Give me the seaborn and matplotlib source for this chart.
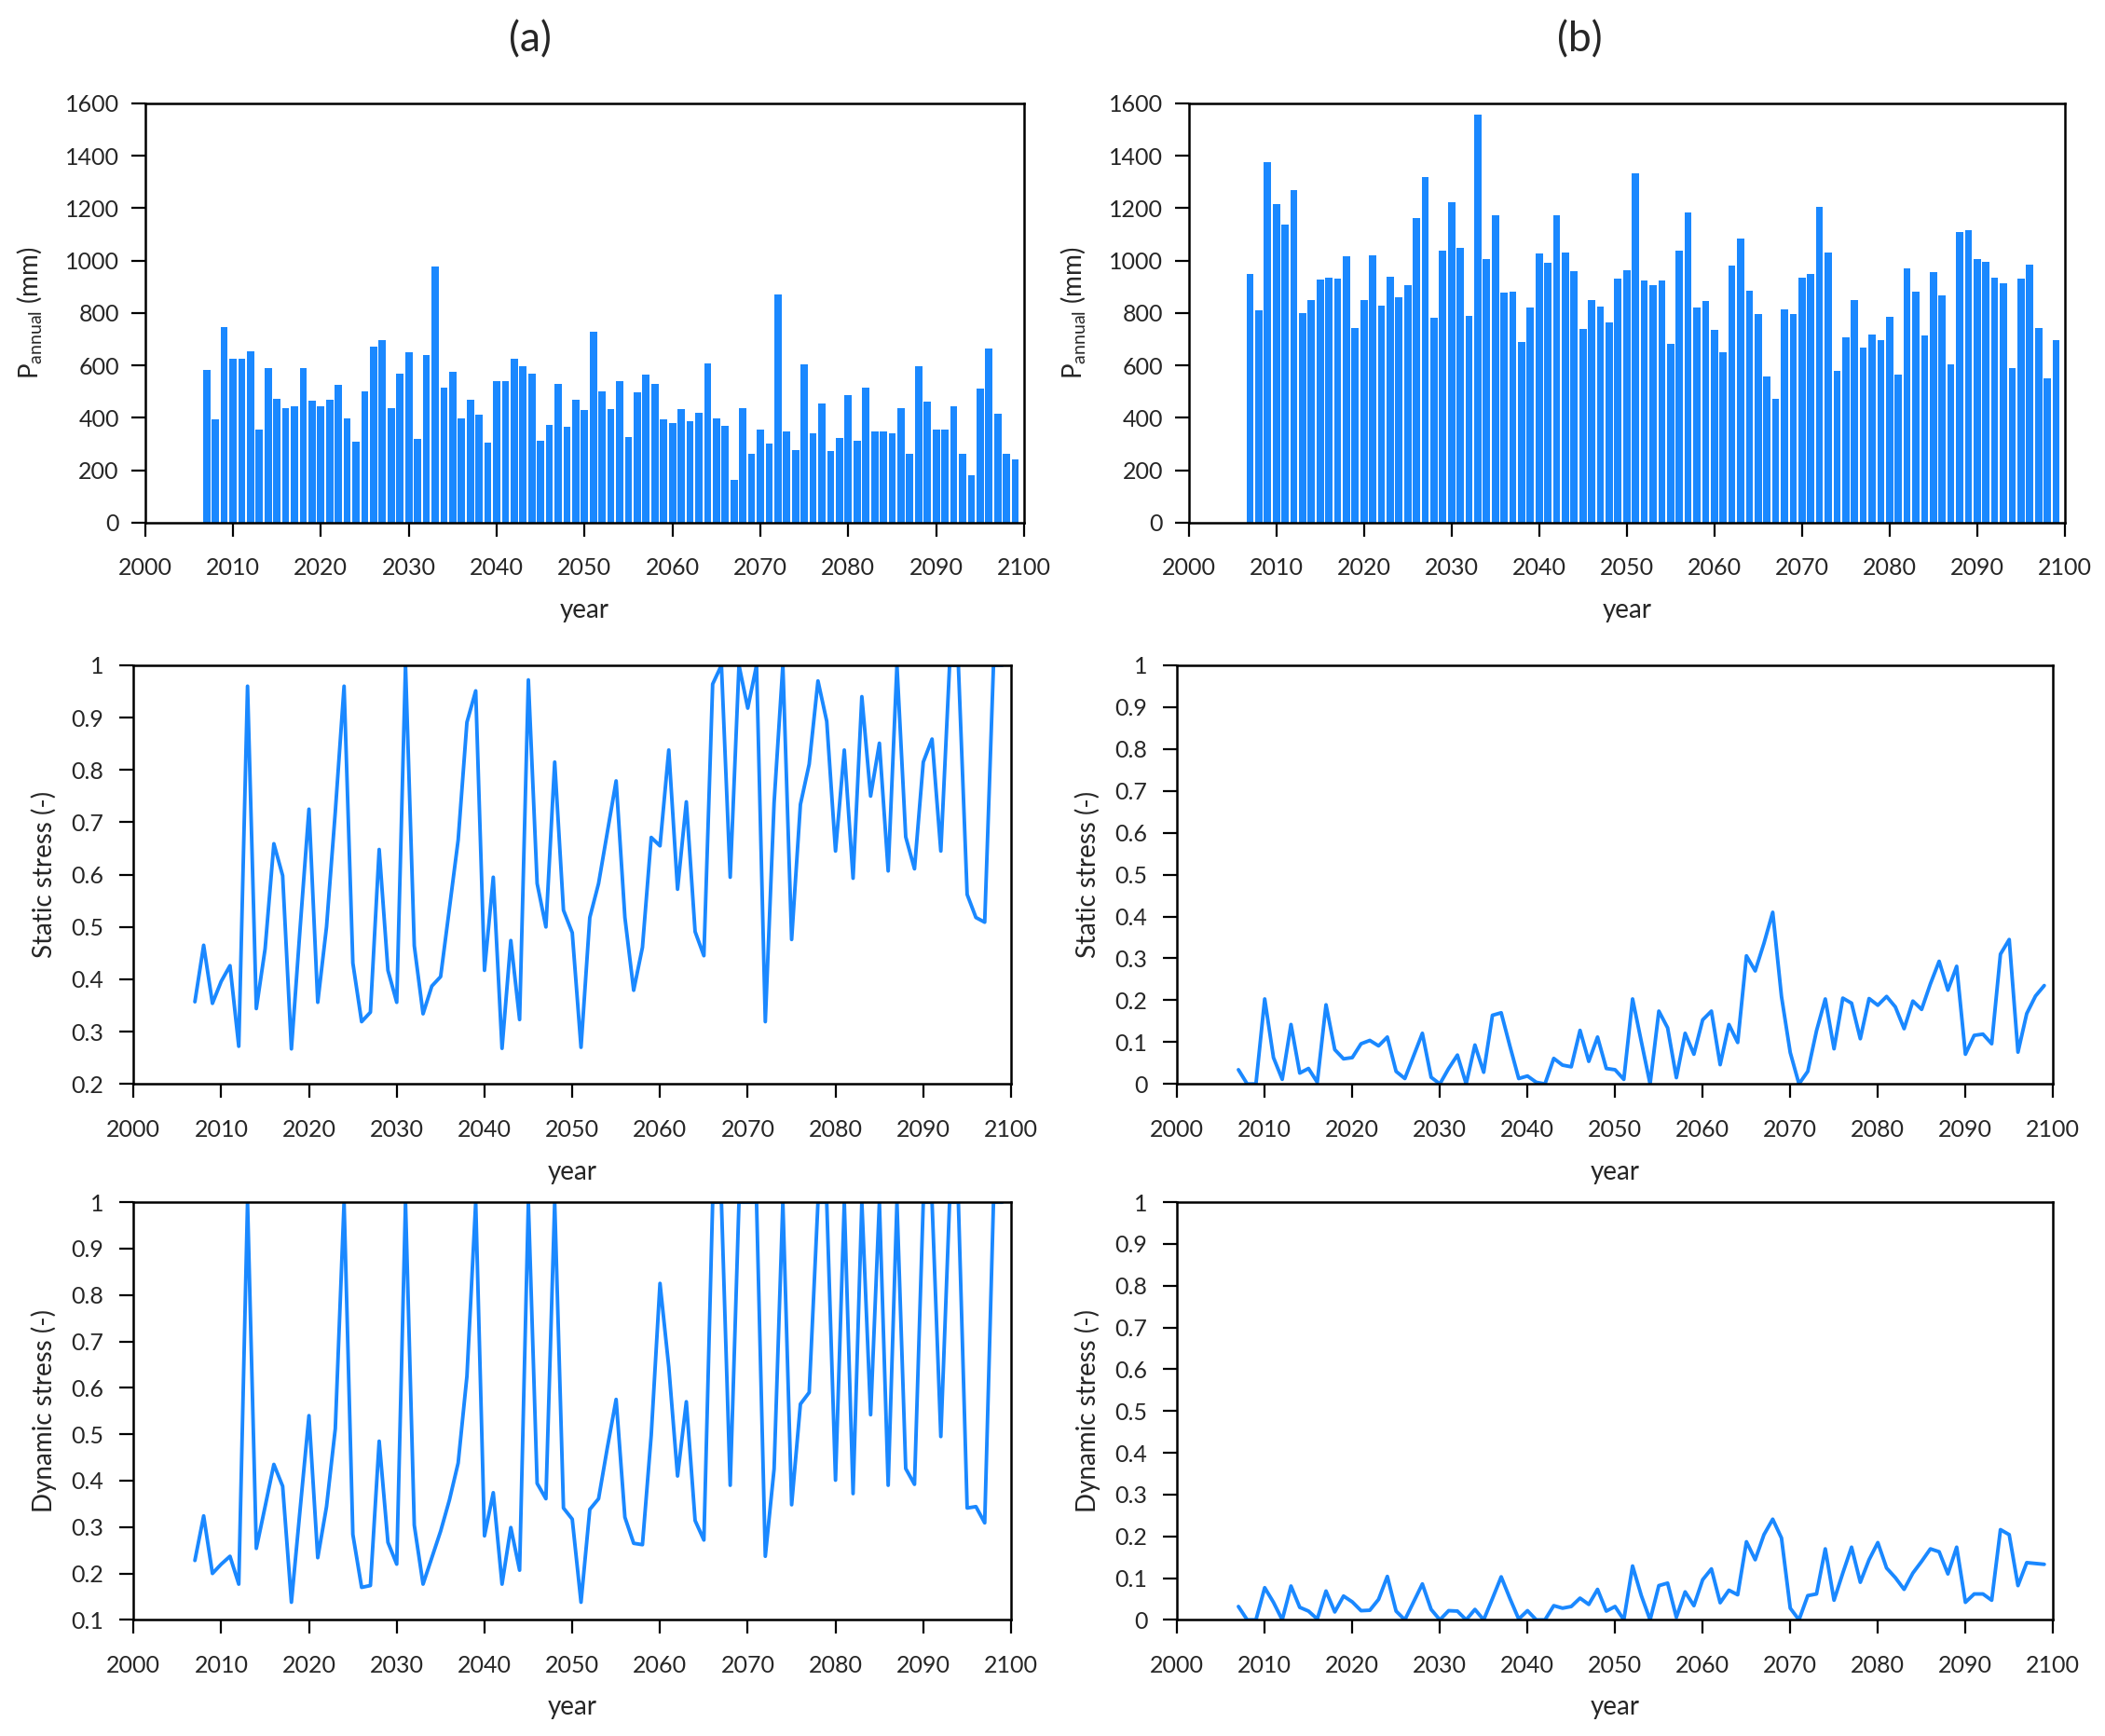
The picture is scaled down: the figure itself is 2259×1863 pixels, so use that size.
import matplotlib
matplotlib.use("Agg")
import matplotlib.pyplot as plt
import seaborn as sns

# Jahre der Zeitreihe
years = list(range(2007, 2100))

# Jahresniederschlag (mm), Szenario (a) und (b)
p_annual_a = [582, 393, 746, 624, 624, 655, 356, 588, 473, 437, 445, 590, 464, 445, 469,
              525, 399, 310, 502, 671, 695, 437, 568, 651, 320, 639, 976, 514, 576, 398,
              467, 410, 304, 540, 538, 624, 598, 568, 312, 371, 529, 365, 469, 429,
              729, 502, 433, 538, 326, 496, 565, 530, 393, 381, 433, 387, 419, 607, 398,
              369, 163, 436, 262, 354, 300, 869, 348, 276, 604, 342, 455, 273, 321, 488,
              312, 514, 348, 348, 342, 435, 264, 598, 461, 354, 354, 443, 264, 181, 512,
              663, 415, 262, 240]
p_annual_b = [949, 810, 1374, 1214, 1136, 1267, 800, 850, 929, 933, 931, 1017, 743, 848, 1020,
              826, 937, 860, 907, 1163, 1318, 782, 1038, 1223, 1050, 790, 1556, 1005, 1171, 877,
              881, 690, 821, 1026, 990, 1171, 1032, 961, 738, 850, 824, 764, 931, 963,
              1332, 925, 905, 925, 683, 1038, 1183, 821, 844, 735, 651, 979, 1083, 886, 794,
              556, 473, 814, 794, 933, 949, 1205, 1030, 580, 707, 850, 669, 717, 695, 785,
              565, 970, 880, 714, 955, 868, 604, 1110, 1115, 1005, 996, 935, 913, 589, 931,
              985, 744, 552, 695]

# statischer Stress (-)
static_a = [0.357, 0.465, 0.354, 0.396, 0.426, 0.272, 0.960, 0.344, 0.458, 0.659, 0.598, 0.267,
            0.50, 0.725, 0.356, 0.50, 0.72, 0.960, 0.431, 0.319, 0.337, 0.648, 0.417, 0.356,
            1.0, 0.464, 0.334, 0.387, 0.405, 0.535, 0.666, 0.891, 0.951, 0.417, 0.595, 0.268,
            0.474, 0.323, 0.972, 0.583, 0.500, 0.815, 0.532, 0.489,
            0.270, 0.518, 0.583, 0.681, 0.779, 0.518, 0.379, 0.461, 0.671, 0.655, 0.838, 0.572,
            0.739, 0.491, 0.445, 0.964, 1.0, 0.595, 1.0, 0.918, 1.0, 0.319, 0.737, 1.0,
            0.476, 0.734, 0.811, 0.970, 0.893, 0.645, 0.838, 0.593, 0.940, 0.750, 0.851, 0.607,
            1.0, 0.672, 0.611, 0.815, 0.859, 0.645, 1.0, 1.0, 0.562, 0.518, 0.509, 1.0, 1.0]
static_b = [0.034, 0.0, 0.0, 0.203, 0.063, 0.011, 0.142, 0.026, 0.037, 0.004, 0.189, 0.082,
            0.060, 0.063, 0.096, 0.104, 0.091, 0.112, 0.030, 0.013, 0.067, 0.121, 0.016, 0.0,
            0.037, 0.069, 0.0, 0.093, 0.028, 0.164, 0.170, 0.090, 0.013, 0.019, 0.004, 0.0,
            0.061, 0.045, 0.041, 0.128, 0.054, 0.112, 0.037, 0.034,
            0.011, 0.203, 0.101, 0.0, 0.174, 0.134, 0.015, 0.121, 0.071, 0.153, 0.174, 0.046,
            0.142, 0.099, 0.306, 0.270, 0.336, 0.410, 0.209, 0.075, 0.0, 0.030, 0.127, 0.203,
            0.084, 0.205, 0.193, 0.108, 0.204, 0.188, 0.209, 0.184, 0.132, 0.198, 0.178, 0.239,
            0.293, 0.224, 0.281, 0.071, 0.116, 0.119, 0.096, 0.310, 0.345, 0.076, 0.168, 0.210,
            0.235]

# dynamischer Stress (-)
dynamic_a = [0.228, 0.324, 0.200, 0.220, 0.237, 0.177, 1.0, 0.254, 0.344, 0.435, 0.388, 0.138,
             0.34, 0.540, 0.234, 0.344, 0.512, 1.0, 0.284, 0.170, 0.174, 0.485, 0.267, 0.220,
             1.0, 0.304, 0.177, 0.234, 0.291, 0.358, 0.438, 0.625, 1.0, 0.281, 0.374, 0.177,
             0.299, 0.207, 1.0, 0.394, 0.361, 1.0, 0.341, 0.317,
             0.138, 0.338, 0.361, 0.471, 0.575, 0.321, 0.265, 0.262, 0.498, 0.825, 0.645, 0.410,
             0.570, 0.314, 0.272, 1.0, 1.0, 0.390, 1.0, 1.0, 1.0, 0.237, 0.425, 1.0,
             0.348, 0.565, 0.590, 1.0, 1.0, 0.401, 1.0, 0.372, 1.0, 0.542, 1.0, 0.390,
             1.0, 0.426, 0.392, 1.0, 1.0, 0.495, 1.0, 1.0, 0.341, 0.344, 0.309, 1.0, 1.0]
dynamic_b = [0.032, 0.0, 0.0, 0.077, 0.042, 0.0, 0.081, 0.030, 0.021, 0.002, 0.069, 0.019,
             0.057, 0.043, 0.022, 0.023, 0.049, 0.104, 0.021, 0.0, 0.043, 0.086, 0.025, 0.0,
             0.022, 0.021, 0.0, 0.025, 0.0, 0.051, 0.103, 0.051, 0.002, 0.022, 0.0, 0.0,
             0.034, 0.028, 0.032, 0.052, 0.037, 0.073, 0.021, 0.032,
             0.0, 0.129, 0.058, 0.0, 0.082, 0.088, 0.006, 0.067, 0.034, 0.096, 0.122, 0.041,
             0.071, 0.060, 0.187, 0.144, 0.204, 0.241, 0.196, 0.028, 0.0, 0.058, 0.062, 0.170,
             0.047, 0.112, 0.174, 0.090, 0.144, 0.185, 0.124, 0.101, 0.073, 0.112, 0.140, 0.170,
             0.163, 0.110, 0.174, 0.042, 0.062, 0.062, 0.047, 0.216, 0.204, 0.082, 0.137, 0.135,
             0.133]

BLUE = "#1a88ff"

sns.set_style("ticks")
plt.rcParams["font.family"] = ["Lato", "DejaVu Sans"]
plt.rcParams["mathtext.fontset"] = "custom"
plt.rcParams["mathtext.rm"] = "Lato"

fig = plt.figure(figsize=(22.59, 18.63), dpi=100)

# Achsenpositionen [links, unten, breite, hoehe]
ax_pa = fig.add_axes([0.0689, 0.6990, 0.4176, 0.2415])
ax_pb = fig.add_axes([0.5647, 0.6990, 0.4162, 0.2415])
ax_sa = fig.add_axes([0.0634, 0.3756, 0.4169, 0.2412])
ax_sb = fig.add_axes([0.5592, 0.3756, 0.4161, 0.2412])
ax_da = fig.add_axes([0.0634, 0.0669, 0.4169, 0.2406])
ax_db = fig.add_axes([0.5592, 0.0669, 0.4161, 0.2406])


def fmt(v):
    return f"{v:g}"


def style(ax, ylab, ylim, yticks, ylab_x, ypad):
    ax.set_xlim(2000, 2100)
    ax.set_xticks(range(2000, 2101, 10))
    ax.set_ylim(*ylim)
    ax.set_yticks(yticks)
    ax.set_yticklabels([fmt(round(v, 1)) for v in yticks])
    for s in ax.spines.values():
        s.set_visible(True)
        s.set_color("black")
        s.set_linewidth(1.8)
    ax.tick_params(axis="both", direction="out", length=11, width=1.6,
                   labelsize=18, color="black", top=False, right=False)
    ax.tick_params(axis="x", pad=16)
    ax.tick_params(axis="y", pad=ypad)
    ax.set_xlabel("year", fontsize=20)
    ax.set_ylabel(ylab, fontsize=20)
    ax.xaxis.set_label_coords(0.5, -0.21)
    ax.xaxis.label.set_va("center")
    ax.yaxis.set_label_coords(ylab_x, 0.5)
    ax.yaxis.label.set_va("center")
    ax.grid(False)


# Balken: Jahresniederschlag
for ax, vals in [(ax_pa, p_annual_a), (ax_pb, p_annual_b)]:
    sns.barplot(x=years, y=vals, ax=ax, native_scale=True, color=BLUE,
                saturation=1, width=0.82, linewidth=0)
    style(ax, r"P$_{\rm annual}$ (mm)", (0, 1600), list(range(0, 1601, 200)), -0.131, 9)

# Linien: Stress
ticks_02 = [0.2 + 0.1 * i for i in range(9)]
ticks_01 = [0.1 + 0.1 * i for i in range(10)]
ticks_00 = [0.1 * i for i in range(11)]

for ax, vals, lab, ylim, ticks in [
    (ax_sa, static_a, "Static stress (-)", (0.2, 1.0), ticks_02),
    (ax_sb, static_b, "Static stress (-)", (0.0, 1.0), ticks_00),
    (ax_da, dynamic_a, "Dynamic stress (-)", (0.1, 1.0), ticks_01),
    (ax_db, dynamic_b, "Dynamic stress (-)", (0.0, 1.0), ticks_00),
]:
    sns.lineplot(x=years, y=vals, ax=ax, color=BLUE, linewidth=2.8)
    style(ax, lab, ylim, ticks, -0.102, 12)

fig.text(0.2519, 0.9769, "(a)", fontsize=32, ha="center", va="center")
fig.text(0.7506, 0.9769, "(b)", fontsize=32, ha="center", va="center")

fig.savefig("out.png", dpi=100)
